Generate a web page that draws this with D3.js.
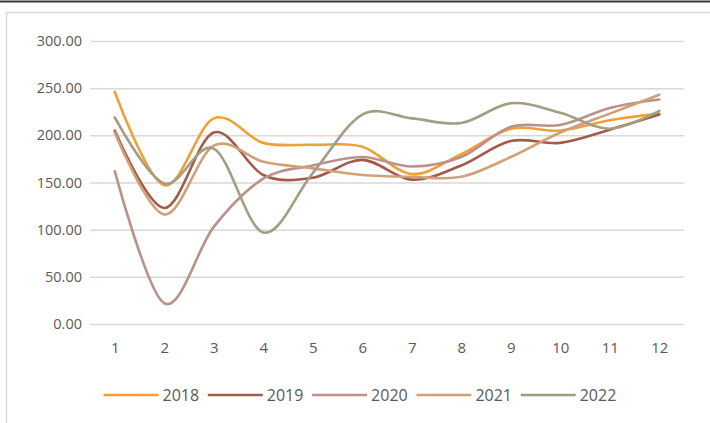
<!DOCTYPE html>
<html><head><meta charset="utf-8">
<script src="https://cdn.jsdelivr.net/npm/d3@7"></script>
<style>
html,body{margin:0;padding:0;background:#fff;}
svg{display:block;font-family:"Open Sans",sans-serif;}
</style></head>
<body><svg id="c" width="710" height="423"></svg>
<script>
const months = ["1","2","3","4","5","6","7","8","9","10","11","12"];
const seriesNames = ["2018","2019","2020","2021","2022"];
const s2018 = [246,147,218,192,190,188,159,180,207,205,216,223];
const s2019 = [205,123,203,158,155,174,153,168,194,192,206,222];
const s2020 = [162,22,103,154,168,177,167,177,209,211,229,238];
const s2021 = [203,116,189,172,165,158,156,156,177,203,223,243];
const s2022 = [219,149,186,97,160,222,218,213,234,224,207,226];
const yTicks = [0,50,100,150,200,250,300];
const colors = ["#F2A033","#A5594A","#BC9189","#CFA177","#A39E81"];

const allSeries = [s2018,s2019,s2020,s2021,s2022];
const svg = d3.select("#c");

// frame
svg.append("line").attr("x1",0).attr("x2",710).attr("y1",1.5).attr("y2",1.5).attr("stroke","#3a3a3a").attr("stroke-width",2);
svg.append("path").attr("d","M6.5,423V12.5H710").attr("fill","none").attr("stroke","#D9D9D9").attr("stroke-width",1.5);

const x = d3.scalePoint().domain(months).range([90,684]).padding(0.5);
const y = d3.scaleLinear().domain([0,300]).range([324,41]);

// gridlines + y labels
const yAxis = d3.axisLeft(y).tickValues(yTicks).tickSize(-594).tickPadding(8).tickFormat(d3.format(".2f"));
const gy = svg.append("g").attr("transform","translate(90,0)").call(yAxis);
gy.select(".domain").remove();
gy.selectAll(".tick line").attr("stroke","#D9D9D9").attr("stroke-width",1.5);
gy.selectAll(".tick text").attr("fill","#595959").attr("font-size",14.5).attr("font-family","'Open Sans',sans-serif");

// x labels
const xAxis = d3.axisBottom(x).tickSize(0).tickPadding(18);
const gx = svg.append("g").attr("transform","translate(0,324)").call(xAxis);
gx.select(".domain").remove();
gx.selectAll(".tick text").attr("fill","#595959").attr("font-size",15).attr("font-family","'Open Sans',sans-serif");

// lines
const line = d3.line().x((d,i)=>x(months[i])).y(d=>y(d)).curve(d3.curveCardinal.tension(0));
allSeries.forEach((s,k)=>{
  svg.append("path").datum(s).attr("d",line).attr("fill","none")
    .attr("stroke",colors[k]).attr("stroke-width",2.6).attr("stroke-linecap","round");
});

// legend
const lg = svg.append("g");
const startX = 103.5, step = 104.3, ly = 395;
seriesNames.forEach((n,k)=>{
  const x0 = startX + k*step;
  lg.append("line").attr("x1",x0).attr("x2",x0+55).attr("y1",ly).attr("y2",ly)
    .attr("stroke",colors[k]).attr("stroke-width",2.6);
  lg.append("text").attr("x",x0+59).attr("y",ly).attr("dy","0.35em")
    .attr("fill","#595959").attr("font-size",16).text(n);
});
</script></body></html>
